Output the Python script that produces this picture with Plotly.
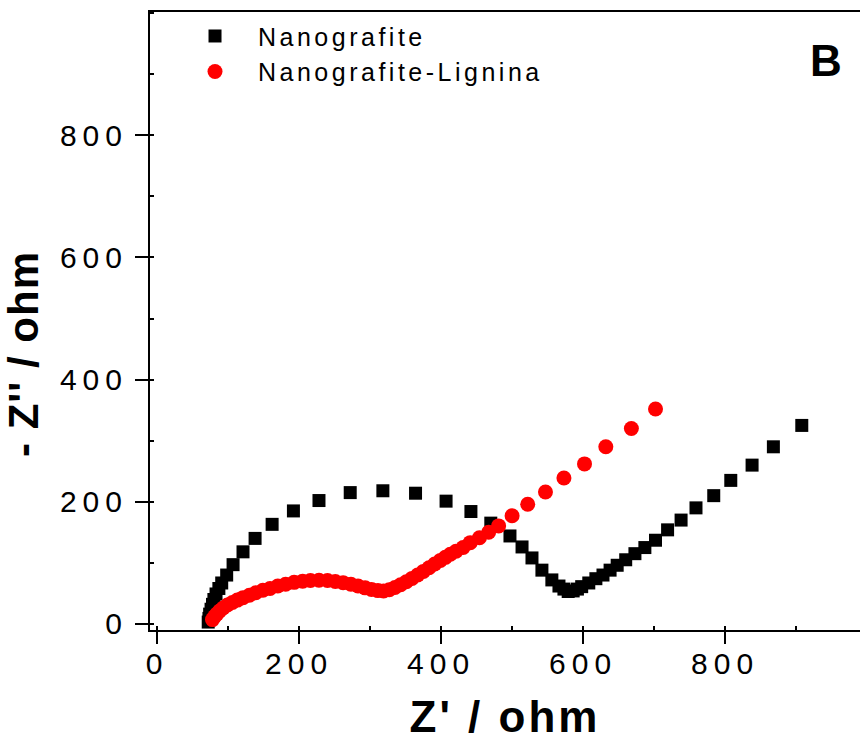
import plotly.graph_objects as go

# Nanografite (black squares): Z' and -Z'' in ohm
nano_x = [72, 73, 74, 76, 78, 80, 83, 87, 91, 98, 107, 121, 138, 162, 192, 228, 272, 318,
          364, 407, 442, 470, 497, 514, 528, 542, 556, 566, 573, 579, 586, 592, 598, 608,
          618, 628, 638, 648, 660, 673, 687, 702, 719, 738, 759, 784, 808, 838, 868, 908]
nano_y = [3, 9, 16, 24, 32, 40, 49, 58, 67, 80, 97, 118, 140, 163, 185, 202, 215, 218,
          214, 201, 184, 165, 144, 126, 108, 88, 72, 62, 57, 53, 54, 57, 61, 67,
          74, 80, 88, 96, 105, 115, 125, 137, 154, 170, 190, 210, 235, 260, 290, 325]

# Nanografite-Lignina (red circles)
lig_x = [78, 81, 84, 88, 93, 99, 106, 113, 121, 130, 139, 149, 159, 170, 181, 193, 205, 216,
         228, 240, 251, 262, 273, 283, 293, 302, 311, 319, 327, 335, 343, 351, 359, 367,
         375, 383, 391, 399, 406, 413, 421, 431, 441, 454, 467, 481, 500, 522, 547, 573,
         602, 632, 668, 702]
lig_y = [7, 12, 16, 21, 26, 31, 35, 39, 43, 47, 51, 55, 58, 62, 65, 68, 70, 71,
         71.5, 71, 69.5, 67.5, 65, 62, 59, 56.5, 54.5, 54, 56, 59.5, 64, 69, 74.5, 80,
         86, 92, 98, 104, 109, 114, 119, 125, 133, 141, 150, 160.5, 177, 196, 216, 239,
         262, 290, 320, 352]

x_ticks = [0, 200, 400, 600, 800]
y_ticks = [0, 200, 400, 600, 800]

FONT = "Liberation Sans, Arial, Helvetica, sans-serif"

fig = go.Figure()
fig.add_trace(go.Scatter(
    x=nano_x, y=nano_y, mode="markers", name="Nanografite",
    marker=dict(symbol="square", size=13, color="black", line=dict(width=0)),
))
fig.add_trace(go.Scatter(
    x=lig_x, y=lig_y, mode="markers", name="Nanografite-Lignina",
    marker=dict(symbol="circle", size=15, color="#ff0000", line=dict(width=0)),
))

axis_common = dict(
    showline=True, linecolor="black", linewidth=2,
    showgrid=False, zeroline=False,
    ticks="outside", tickwidth=2, tickcolor="black",
    tickfont=dict(family=FONT, size=30, color="black"),
    minor=dict(dtick=100, ticks="inside", ticklen=4, tickwidth=1.5, tickcolor="black"),
)

fig.update_layout(
    width=860, height=742,
    margin=dict(l=150, r=0, t=12, b=112),
    paper_bgcolor="white", plot_bgcolor="white",
    font=dict(family=FONT, color="black"),
    xaxis=dict(
        range=[-10, 990], tickvals=x_ticks, ticklen=12, mirror=True,
        ticklabelstandoff=-6,
        title=dict(text="Z' / ohm", font=dict(family=FONT, size=44, weight="bold"), standoff=22),
        **axis_common,
    ),
    yaxis=dict(
        range=[-10, 1002], tickvals=y_ticks, ticklen=13, mirror=False,
        ticklabelstandoff=1,
        title=dict(text="- Z'' / ohm",
                   font=dict(family=FONT, size=42, weight="bold"), standoff=26),
        **axis_common,
    ),
    legend=dict(
        x=0.031, y=0.998, xanchor="left", yanchor="top",
        bgcolor="rgba(0,0,0,0)", borderwidth=0,
        font=dict(family=FONT, size=25, color="black"),
        itemwidth=76,
    ),
    annotations=[dict(
        text="B", xref="paper", yref="paper", x=0.952, y=0.921,
        xanchor="center", yanchor="middle", showarrow=False,
        font=dict(family=FONT, size=44, weight="bold", color="black"),
    )],
)

post = """
var gd = document.getElementById('{plot_id}');
gd.querySelectorAll('.xtick text, .ytick text').forEach(function(t){ t.style.letterSpacing = '6px'; });
gd.querySelectorAll('.legendtext').forEach(function(t){ t.style.letterSpacing = '3.5px'; });
gd.querySelectorAll('.xtitle').forEach(function(t){ t.style.letterSpacing = '3px'; });
gd.querySelectorAll('.ytitle').forEach(function(t){
  t.style.letterSpacing = '1px';
  t.setAttribute('transform', 'translate(0,33) ' + (t.getAttribute('transform') || ''));
});
gd.querySelectorAll('.legend .scrollbox, .legend [clip-path]').forEach(function(el){ el.removeAttribute('clip-path'); });
"""

fig.write_html("out.html", post_script=post)
